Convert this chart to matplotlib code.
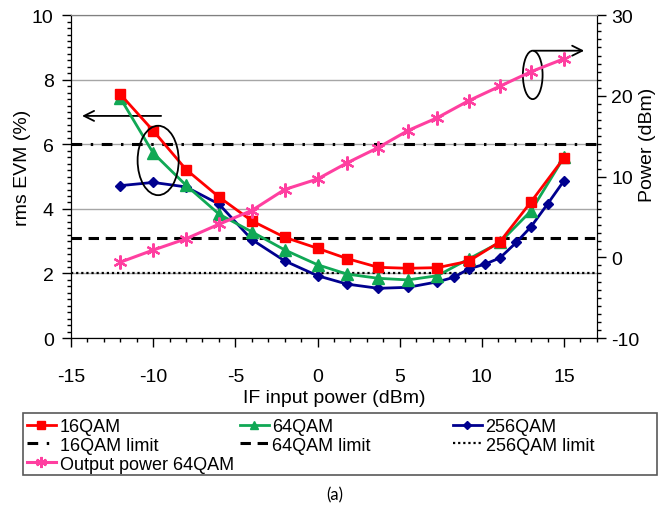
import numpy as np
import matplotlib
matplotlib.use('Agg')
import matplotlib.pyplot as plt
from matplotlib.patches import Ellipse, Rectangle
from matplotlib.ticker import MultipleLocator

plt.rcParams['font.family'] = ['Liberation Sans', 'DejaVu Sans']
plt.rcParams['axes.unicode_minus'] = False

# IF input power (dBm)
x_main = [-12, -10, -8, -6, -4, -2, 0, 1.8, 3.7, 5.5, 7.3, 9.2, 11.1, 13, 15]
x_256 = [-12, -10, -8, -6, -4, -2, 0, 1.8, 3.7, 5.5, 7.3, 8.3, 9.2, 10.2, 11.1, 12.1, 13, 14, 15]

# rms EVM (%)
evm_16 = [7.55, 6.42, 5.22, 4.37, 3.63, 3.12, 2.78, 2.46, 2.19, 2.16, 2.18, 2.38, 2.98, 4.22, 5.58]
evm_64 = [7.43, 5.73, 4.73, 3.84, 3.29, 2.73, 2.27, 1.98, 1.85, 1.80, 1.93, 2.45, 2.96, 3.94, 5.60]
evm_256 = [4.72, 4.82, 4.68, 4.15, 3.05, 2.39, 1.93, 1.67, 1.54, 1.57, 1.74, 1.88, 2.14, 2.29,
           2.48, 2.96, 3.45, 4.15, 4.87]

# Output power 64QAM (dBm)
pout_64 = [-0.6, 0.9, 2.3, 4.1, 5.8, 8.4, 9.7, 11.7, 13.6, 15.7, 17.3, 19.4, 21.2, 23.0, 24.6]

# EVM limits (%)
lim_16 = 6.0
lim_64 = 3.1
lim_256 = 2.0

fig = plt.figure(figsize=(6.58, 5.06), dpi=100)
ax = fig.add_axes([0.108, 0.330, 0.799, 0.638])
ax2 = ax.twinx()

red = '#FF0000'
green = '#10A855'
blue = '#00008F'
pink = '#FF3FA0'

l16, = ax.plot(x_main, evm_16, color=red, lw=2, marker='s', ms=7, label='16QAM', zorder=5)
l64, = ax.plot(x_main, evm_64, color=green, lw=2, marker='^', ms=8, label='64QAM', zorder=4)
l256, = ax.plot(x_256, evm_256, color=blue, lw=2, marker='D', ms=5.5, label='256QAM', zorder=3)

h16 = ax.axhline(lim_16, color='black', lw=2.2, ls=(0, (3.5, 2.8, 0.8, 2.8)), label='16QAM limit', zorder=2)
h64 = ax.axhline(lim_64, color='black', lw=2.2, ls=(0, (3.4, 2.2)), label='64QAM limit', zorder=2)
h256 = ax.axhline(lim_256, color='black', lw=1.6, ls=(0, (1, 1.3)), label='256QAM limit', zorder=2)

lp, = ax2.plot(x_main, pout_64, color=pink, lw=2.2, marker=(6, 2, 0), ms=10, mew=1.6,
               label='Output power 64QAM')

ax.set_xlim(-15, 17)
ax.set_ylim(0, 10)
ax2.set_ylim(-10, 30)

ax.xaxis.set_major_locator(MultipleLocator(5))
ax.xaxis.set_minor_locator(MultipleLocator(1))
ax.yaxis.set_major_locator(MultipleLocator(2))
ax.yaxis.set_minor_locator(MultipleLocator(0.2))
ax2.yaxis.set_major_locator(MultipleLocator(10))
ax2.yaxis.set_minor_locator(MultipleLocator(1))

ax.grid(axis='y', which='major', color='#A6A6A6', lw=1)
ax.set_axisbelow(True)

for a in (ax, ax2):
    a.tick_params(which='major', direction='out', length=6.5, width=1, labelsize=14)
    a.tick_params(which='minor', direction='out', length=3.2, width=1)
ax.tick_params(axis='x', which='major', pad=15)
ax.tick_params(axis='y', which='major', pad=6)
ax2.tick_params(axis='y', which='major', pad=4)
ax.spines['top'].set_color('#808080')
ax2.spines['top'].set_color('#808080')
for s in ('left', 'bottom'):
    ax.spines[s].set_color('black')
ax2.spines['right'].set_color('black')

ax.set_xlabel('IF input power (dBm)', fontsize=14, labelpad=3)
ax.set_ylabel('rms EVM (%)', fontsize=14)
ax2.set_ylabel('Power (dBm)', fontsize=14)
ax.yaxis.set_label_coords(-0.076, 0.53)
ax2.yaxis.set_label_coords(1.08, 0.6)

# annotations: ellipses with arrows pointing to the axis used
ax.add_patch(Ellipse((-9.7, 5.5), 2.5, 2.15, fill=False, color='black', lw=1.3, zorder=6))
ax.annotate('', xy=(-14.5, 6.88), xytext=(-9.35, 6.88),
            arrowprops=dict(arrowstyle='->', color='black', lw=1.3, mutation_scale=18))
ax.add_patch(Ellipse((13.1, 8.15), 1.2, 1.5, fill=False, color='black', lw=1.3, zorder=6))
ax.annotate('', xy=(16.4, 8.9), xytext=(13.0, 8.9),
            arrowprops=dict(arrowstyle='->', color='black', lw=1.3, mutation_scale=18))

# legend: three columns placed separately, one common frame
columns = [[l16, h16, lp], [l64, h64], [l256, h256]]
col_x = [27, 240, 453]
for hs, cx in zip(columns, col_x):
    lg = fig.legend(handles=hs, labels=[h.get_label() for h in hs], loc='upper left',
                    bbox_to_anchor=(cx / 658, 1 - 419 / 506), frameon=False, fontsize=13,
                    handlelength=1.6, handletextpad=0.2, labelspacing=0.1, borderpad=0,
                    borderaxespad=0, markerscale=0.8)
fig.add_artist(Rectangle((23 / 658, 1 - 476 / 506), 634 / 658, 62 / 506, transform=fig.transFigure,
                         fill=False, edgecolor='#595959', lw=1.2))

fig.text(335 / 658, 1 - 495 / 506, '(a)', ha='center', va='center', fontsize=12, family='Lato')

fig.savefig('out.png', dpi=100)
